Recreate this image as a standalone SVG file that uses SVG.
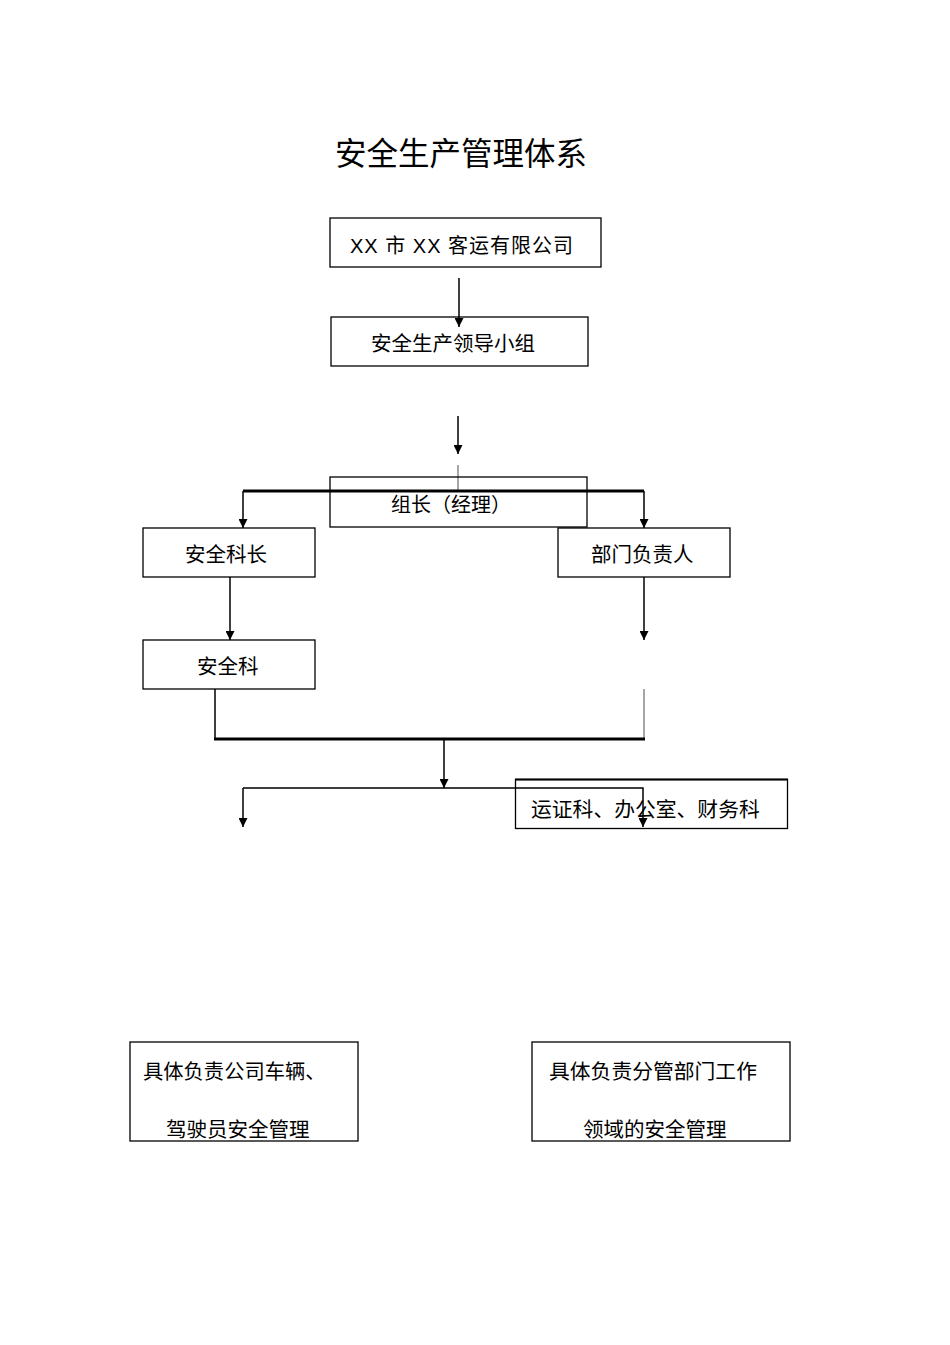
<svg xmlns="http://www.w3.org/2000/svg" width="950" height="1345" viewBox="0 0 950 1345">
<style>
.box{fill:none;stroke:#000;stroke-width:1.3}
.t{font-family:"Liberation Sans","Noto Sans CJK SC",sans-serif;font-size:20px;fill:#000}
.ln{fill:none;stroke:#000;stroke-width:1.5}
.thick{fill:none;stroke:#000;stroke-width:3}
.gray{fill:none;stroke:#888;stroke-width:1.5}
</style>
<defs>
<marker id="ah" viewBox="0 0 10 10" refX="10" refY="5" markerWidth="11" markerHeight="9" markerUnits="userSpaceOnUse" orient="auto">
<path d="M0,0 L10,5 L0,10 z" fill="#000"/>
</marker>
</defs>
<rect width="950" height="1345" fill="#fff"/>
<text x="461" y="165" text-anchor="middle" style="font-family:'Liberation Sans','Noto Sans CJK SC',sans-serif;font-size:31.5px">安全生产管理体系</text>

<g id="connectors">
<line class="ln" x1="459" y1="278" x2="459" y2="327" marker-end="url(#ah)"/>
<line class="ln" x1="458" y1="416" x2="458" y2="454" marker-end="url(#ah)"/>
<line class="gray" x1="458" y1="465" x2="458" y2="490"/>
<line class="thick" x1="243" y1="491" x2="644" y2="491"/>
<line class="ln" x1="243" y1="491" x2="243" y2="528" marker-end="url(#ah)"/>
<line class="ln" x1="644" y1="491" x2="644" y2="528" marker-end="url(#ah)"/>
<line class="ln" x1="230" y1="577" x2="230" y2="640" marker-end="url(#ah)"/>
<line class="ln" x1="644" y1="577" x2="644" y2="640" marker-end="url(#ah)"/>
<line class="ln" x1="215" y1="689" x2="215" y2="739"/>
<line class="gray" x1="644" y1="689" x2="644" y2="739"/>
<line class="thick" x1="214" y1="739" x2="645" y2="739"/>
<line class="ln" x1="444" y1="739" x2="444" y2="788" marker-end="url(#ah)"/>
<polyline class="ln" points="243,788 643,788 643,827" marker-end="url(#ah)"/>
<line class="ln" x1="243" y1="788" x2="243" y2="827" marker-end="url(#ah)"/>
</g>

<g id="company">
<rect class="box" x="330" y="218" width="271" height="49"/>
<text class="t" x="350" y="253" textLength="223" lengthAdjust="spacing">XX 市 XX 客运有限公司</text>
</g>
<g id="leadgroup">
<rect class="box" x="331" y="317" width="257" height="49"/>
<text class="t" x="371" y="351" style="font-size:20.5px">安全生产领导小组</text>
</g>
<g id="leader">
<rect class="box" x="330" y="477" width="257" height="50"/>
<text class="t" x="391" y="512">组长（经理）</text>
</g>
<g id="safetychief">
<rect class="box" x="143" y="528" width="172" height="49"/>
<text class="t" x="185" y="562" style="font-size:20.5px">安全科长</text>
</g>
<g id="depthead">
<rect class="box" x="558" y="528" width="172" height="49"/>
<text class="t" x="591" y="562" style="font-size:20.5px">部门负责人</text>
</g>
<g id="safetydept">
<rect class="box" x="143" y="640" width="172" height="49"/>
<text class="t" x="197" y="674" style="font-size:20.5px">安全科</text>
</g>
<g id="depts">
<rect class="box" x="515.5" y="779.5" width="272" height="49"/>
<line x1="515" y1="779.5" x2="788" y2="779.5" stroke="#000" stroke-width="2"/>
<text class="t" x="531" y="817" style="font-size:20.8px">运证科、办公室、财务科</text>
</g>
<g id="leftduty">
<rect class="box" x="130" y="1042" width="228" height="99"/>
<text class="t" x="143" y="1079" style="font-size:20.3px">具体负责公司车辆、</text>
<text class="t" x="166" y="1137" style="font-size:20.5px">驾驶员安全管理</text>
</g>
<g id="rightduty">
<rect class="box" x="532" y="1042" width="258" height="99"/>
<text class="t" x="549" y="1079" style="font-size:20.8px">具体负责分管部门工作</text>
<text class="t" x="583" y="1137" style="font-size:20.5px">领域的安全管理</text>
</g>
</svg>
